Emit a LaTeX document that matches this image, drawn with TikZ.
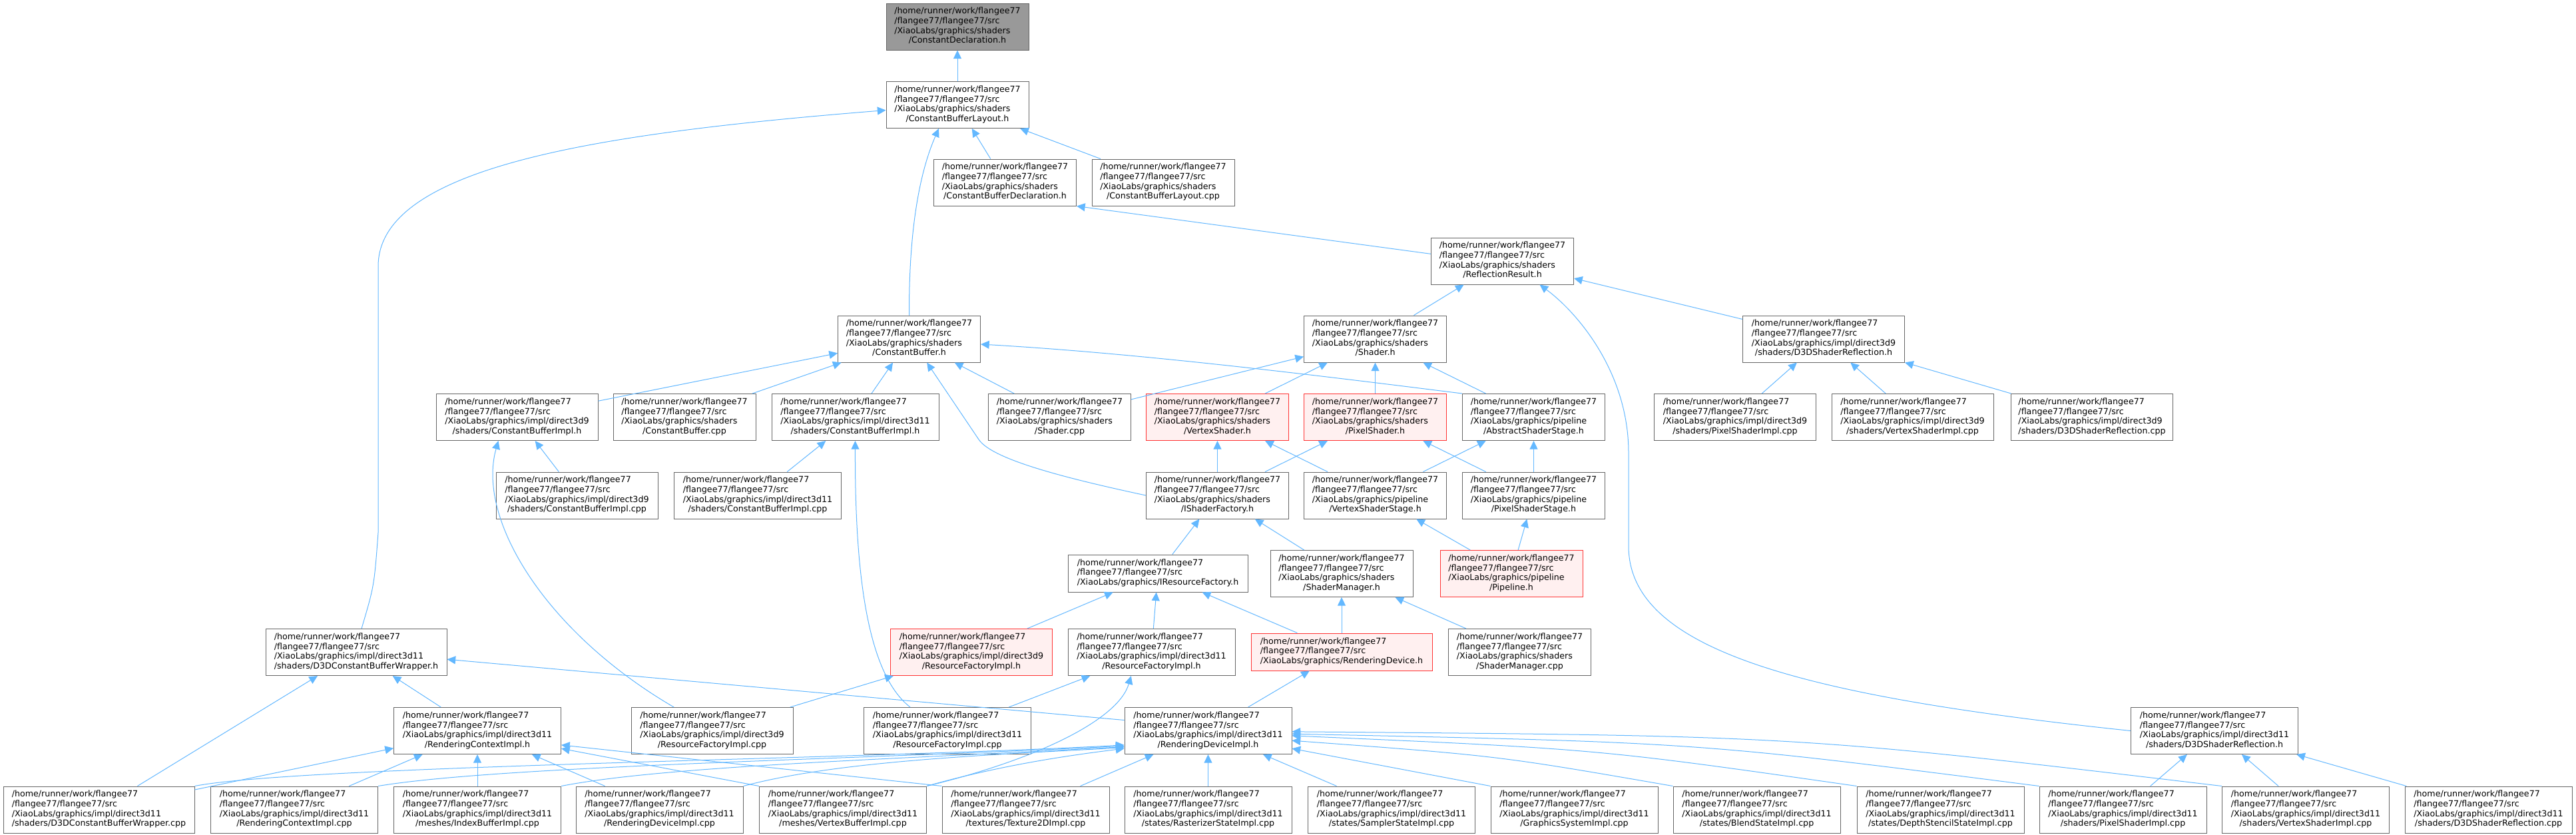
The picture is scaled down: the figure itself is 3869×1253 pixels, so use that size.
\documentclass[tikz,border=0pt]{standalone}
\usepackage{fontspec}
\setmainfont{DejaVu Sans}
\usetikzlibrary{arrows.meta,calc}
\definecolor{frame}{HTML}{666666}
\definecolor{rootfill}{HTML}{999999}
\definecolor{hotline}{HTML}{FF3333}
\definecolor{hotfill}{HTML}{FFF0F0}
\definecolor{depline}{HTML}{63B8FF}
\newcommand\incpath[2]{\begin{tabular}{@{}l@{}}/home/runner/work/flangee77\\/flangee77/flangee77/src\\#1\\\multicolumn{1}{@{}c@{}}{#2}\end{tabular}}
\newcommand\incpathi[1]{\begin{tabular}{@{}l@{}}/home/runner/work/flangee77\\/flangee77/flangee77/src\\#1\end{tabular}}
\renewcommand\arraystretch{1}
\tikzset{every node/.style={font=\fontsize{9.5}{11}\selectfont,text=black},
file/.style={draw=frame,fill=white,line width=.75pt,inner sep=0pt,minimum height=52.5pt},
hot/.style={draw=hotline,fill=hotfill},
root/.style={fill=rootfill},
threeline/.style={minimum height=42pt},
w214/.style={minimum width=160.5pt},
w243/.style={minimum width=182.25pt},
w251/.style={minimum width=188.25pt},
w270/.style={minimum width=202.5pt},
w272/.style={minimum width=204pt},
w287/.style={minimum width=215.25pt},
dep/.style={draw=depline,line width=.75pt,-{Triangle[length=9.5pt,width=9pt]}}}

\begin{document}
\begin{tikzpicture}[x=0.75pt,y=-0.75pt]
\fill[white] (0,0) rectangle (3869,1253);
\useasboundingbox (0,0) rectangle (3869,1253);
\node[file,w214,root] (cdecl) at (1438,40) {\incpath{/XiaoLabs/graphics/shaders}{/ConstantDeclaration.h}};
\node[file,w214] (cblay) at (1438,157.5) {\incpath{/XiaoLabs/graphics/shaders}{/ConstantBufferLayout.h}};
\node[file,w214] (cbdecl) at (1509.5,274) {\incpath{/XiaoLabs/graphics/shaders}{/ConstantBufferDeclaration.h}};
\node[file,w214] (cblaycpp) at (1747,274) {\incpath{/XiaoLabs/graphics/shaders}{/ConstantBufferLayout.cpp}};
\node[file,w214] (refl) at (2256.5,392) {\incpath{/XiaoLabs/graphics/shaders}{/ReflectionResult.h}};
\node[file,w214] (cbuf) at (1365.5,509) {\incpath{/XiaoLabs/graphics/shaders}{/ConstantBuffer.h}};
\node[file,w214] (shader) at (2065.5,509) {\incpath{/XiaoLabs/graphics/shaders}{/Shader.h}};
\node[file,w243] (dnreflh) at (2739,509) {\incpath{/XiaoLabs/graphics/impl/direct3d9}{/shaders/D3DShaderReflection.h}};

\node[file,w243] (dncbh) at (776.5,626.5) {\incpath{/XiaoLabs/graphics/impl/direct3d9}{/shaders/ConstantBufferImpl.h}};
\node[file,w214] (cbufcpp) at (1028,626.5) {\incpath{/XiaoLabs/graphics/shaders}{/ConstantBuffer.cpp}};
\node[file,w251] (decbh) at (1284.5,626.5) {\incpath{/XiaoLabs/graphics/impl/direct3d11}{/shaders/ConstantBufferImpl.h}};
\node[file,w214] (shadercpp) at (1591.5,626.5) {\incpath{/XiaoLabs/graphics/shaders}{/Shader.cpp}};
\node[file,w214,hot] (vsh) at (1828.5,626.5) {\incpath{/XiaoLabs/graphics/shaders}{/VertexShader.h}};
\node[file,w214,hot] (psh) at (2065.5,626.5) {\incpath{/XiaoLabs/graphics/shaders}{/PixelShader.h}};
\node[file,w214] (stage) at (2303.5,626.5) {\incpath{/XiaoLabs/graphics/pipeline}{/AbstractShaderStage.h}};
\node[file,w243] (dnpscpp) at (2606,626.5) {\incpath{/XiaoLabs/graphics/impl/direct3d9}{/shaders/PixelShaderImpl.cpp}};
\node[file,w243] (dnvscpp) at (2872.5,626.5) {\incpath{/XiaoLabs/graphics/impl/direct3d9}{/shaders/VertexShaderImpl.cpp}};
\node[file,w243] (dnreflcpp) at (3142,626.5) {\incpath{/XiaoLabs/graphics/impl/direct3d9}{/shaders/D3DShaderReflection.cpp}};

\node[file,w243] (dncbcpp) at (866.5,744) {\incpath{/XiaoLabs/graphics/impl/direct3d9}{/shaders/ConstantBufferImpl.cpp}};
\node[file,w251] (decbcpp) at (1138,744) {\incpath{/XiaoLabs/graphics/impl/direct3d11}{/shaders/ConstantBufferImpl.cpp}};
\node[file,w214] (isf) at (1828.5,744) {\incpath{/XiaoLabs/graphics/shaders}{/IShaderFactory.h}};
\node[file,w214] (vstage) at (2065.5,744) {\incpath{/XiaoLabs/graphics/pipeline}{/VertexShaderStage.h}};
\node[file,w214] (pstage) at (2303.5,744) {\incpath{/XiaoLabs/graphics/pipeline}{/PixelShaderStage.h}};

\node[file,w270,threeline] (irf) at (1739,861) {\incpathi{/XiaoLabs/graphics/IResourceFactory.h}};
\node[file,w214] (shm) at (2015,861.5) {\incpath{/XiaoLabs/graphics/shaders}{/ShaderManager.h}};
\node[file,w214,hot] (pipe) at (2270,861.5) {\incpath{/XiaoLabs/graphics/pipeline}{/Pipeline.h}};

\node[file,w272] (wraph) at (535,979.5) {\incpath{/XiaoLabs/graphics/impl/direct3d11}{/shaders/D3DConstantBufferWrapper.h}};
\node[file,w243,hot] (dnrfh) at (1459,979.5) {\incpath{/XiaoLabs/graphics/impl/direct3d9}{/ResourceFactoryImpl.h}};
\node[file,w251] (derfh) at (1729.5,979.5) {\incpath{/XiaoLabs/graphics/impl/direct3d11}{/ResourceFactoryImpl.h}};
\node[file,w272,threeline,hot] (rdev) at (2015,979) {\incpathi{/XiaoLabs/graphics/RenderingDevice.h}};
\node[file,w214] (shmcpp) at (2282.5,979.5) {\incpath{/XiaoLabs/graphics/shaders}{/ShaderManager.cpp}};

\node[file,w251] (rctxh) at (717,1097.5) {\incpath{/XiaoLabs/graphics/impl/direct3d11}{/RenderingContextImpl.h}};
\node[file,w243] (dnrfcpp) at (1069.5,1097.5) {\incpath{/XiaoLabs/graphics/impl/direct3d9}{/ResourceFactoryImpl.cpp}};
\node[file,w251] (derfcpp) at (1423,1097.5) {\incpath{/XiaoLabs/graphics/impl/direct3d11}{/ResourceFactoryImpl.cpp}};
\node[file,w251] (rdevh) at (1814.5,1097.5) {\incpath{/XiaoLabs/graphics/impl/direct3d11}{/RenderingDeviceImpl.h}};
\node[file,w251] (dereflh) at (3326,1097.5) {\incpath{/XiaoLabs/graphics/impl/direct3d11}{/shaders/D3DShaderReflection.h}};

\node[file,w287] (wrapcpp) at (148.5,1216) {\incpath{/XiaoLabs/graphics/impl/direct3d11}{/shaders/D3DConstantBufferWrapper.cpp}};
\node[file,w251] (rctxcpp) at (442,1216) {\incpath{/XiaoLabs/graphics/impl/direct3d11}{/RenderingContextImpl.cpp}};
\node[file,w251] (ibcpp) at (717,1216) {\incpath{/XiaoLabs/graphics/impl/direct3d11}{/meshes/IndexBufferImpl.cpp}};
\node[file,w251] (rdevcpp) at (990.5,1216) {\incpath{/XiaoLabs/graphics/impl/direct3d11}{/RenderingDeviceImpl.cpp}};
\node[file,w251] (vbcpp) at (1266,1216) {\incpath{/XiaoLabs/graphics/impl/direct3d11}{/meshes/VertexBufferImpl.cpp}};
\node[file,w251] (texcpp) at (1540.5,1216) {\incpath{/XiaoLabs/graphics/impl/direct3d11}{/textures/Texture2DImpl.cpp}};
\node[file,w251] (rastcpp) at (1814.5,1216) {\incpath{/XiaoLabs/graphics/impl/direct3d11}{/states/RasterizerStateImpl.cpp}};
\node[file,w251] (sampcpp) at (2090,1216) {\incpath{/XiaoLabs/graphics/impl/direct3d11}{/states/SamplerStateImpl.cpp}};
\node[file,w251] (gscpp) at (2364.5,1216) {\incpath{/XiaoLabs/graphics/impl/direct3d11}{/GraphicsSystemImpl.cpp}};
\node[file,w251] (blendcpp) at (2638.5,1216) {\incpath{/XiaoLabs/graphics/impl/direct3d11}{/states/BlendStateImpl.cpp}};
\node[file,w251] (dscpp) at (2914.5,1216) {\incpath{/XiaoLabs/graphics/impl/direct3d11}{/states/DepthStencilStateImpl.cpp}};
\node[file,w251] (pscpp) at (3188.5,1216) {\incpath{/XiaoLabs/graphics/impl/direct3d11}{/shaders/PixelShaderImpl.cpp}};
\node[file,w251] (vscpp) at (3463,1216) {\incpath{/XiaoLabs/graphics/impl/direct3d11}{/shaders/VertexShaderImpl.cpp}};
\node[file,w251] (dereflcpp) at (3737.5,1216) {\incpath{/XiaoLabs/graphics/impl/direct3d11}{/shaders/D3DShaderReflection.cpp}};

\draw[dep] (cblay) -- (cdecl);
\draw[dep] (cbdecl) -- (cblay);
\draw[dep] (cblaycpp) -- (cblay);
\draw[dep] (cbuf.north) .. controls (1365,330) and (1385,250) .. ([xshift=-21pt]cblay.south);
\draw[dep] ([xshift=6pt]wraph.north) .. controls (562,880) .. (568,800) -- (568,400) .. controls (568,250) and (900,200) .. ([yshift=-6pt]cblay.west);
\draw[dep] ([yshift=8pt]refl.west) -- (cbdecl.south east);
\draw[dep] (shader) -- (refl);
\draw[dep] (dnreflh) -- (refl);
\draw[dep] (dereflh.west) .. controls (2700,1045) and (2446,975) .. (2446,820) -- (2446,680) .. controls (2446,560) and (2370,470) .. ([xshift=42pt]refl.south);
\draw[dep] (dncbh) -- (cbuf);
\draw[dep] (cbufcpp) -- (cbuf);
\draw[dep] (decbh) -- (cbuf);
\draw[dep] (shadercpp) -- (cbuf);
\draw[dep] (isf.west) .. controls (1600,718) and (1490,690) .. (1470,660) -- ([xshift=20pt]cbuf.south);
\draw[dep] (stage.north west) .. controls (1950,560) and (1700,530) .. ([yshift=-6pt]cbuf.east);
\draw[dep] (shadercpp) -- (shader);
\draw[dep] (vsh) -- (shader);
\draw[dep] (psh) -- (shader);
\draw[dep] (stage) -- (shader);
\draw[dep] (dnpscpp) -- (dnreflh);
\draw[dep] (dnvscpp) -- (dnreflh);
\draw[dep] (dnreflcpp) -- (dnreflh);
\draw[dep] (dncbcpp) -- (dncbh);
\draw[dep] ([xshift=-43pt]dnrfcpp.north) .. controls (820,950) and (715,780) .. ([xshift=-21pt]dncbh.south);
\draw[dep] (decbcpp) -- (decbh);
\draw[dep] ([xshift=-42pt]derfcpp.north) .. controls (1300,1010) and (1284,850) .. (decbh.south);
\draw[dep] (isf) -- (vsh);
\draw[dep] (vstage) -- (vsh);
\draw[dep] (isf) -- (psh);
\draw[dep] (pstage) -- (psh);
\draw[dep] (vstage) -- (stage);
\draw[dep] (pstage) -- (stage);
\draw[dep] (pipe) -- (vstage);
\draw[dep] (pipe) -- (pstage);
\draw[dep] (irf) -- (isf);
\draw[dep] (shm) -- (isf);
\draw[dep] (dnrfh) -- (irf);
\draw[dep] (derfh) -- (irf);
\draw[dep] (rdev) -- (irf);
\draw[dep] (rdev) -- (shm);
\draw[dep] (shmcpp) -- (shm);
\draw[dep] (rdevh) -- (rdev);
\draw[dep] (dnrfcpp) -- (dnrfh);
\draw[dep] (derfcpp) -- (derfh);
\draw[dep] (vbcpp.north east) .. controls (1560,1140) and (1680,1080) .. ([xshift=-23pt]derfh.south);
\draw[dep] ([yshift=12pt]rdevh.west) -- ([yshift=-8pt]wraph.east);
\draw[dep] (rctxh) -- (wraph);
\draw[dep] (wrapcpp) -- (wraph);
\draw[dep] (wrapcpp) -- (rctxh);
\draw[dep] (rctxcpp) -- (rctxh);
\draw[dep] (ibcpp) -- (rctxh);
\draw[dep] (rdevcpp) -- (rctxh);
\draw[dep] (vbcpp.north west) -- ([yshift=-20pt]rctxh.east);
\draw[dep] (texcpp.north west) -- ([yshift=-16pt]rctxh.east);
\draw[dep] (wrapcpp.north east) .. controls (450,1150) and (1300,1140) .. ([yshift=-16pt]rdevh.west);
\draw[dep] (rctxcpp.north east) .. controls (750,1150) and (1300,1140) .. ([yshift=-17pt]rdevh.west);
\draw[dep] (ibcpp.north east) .. controls (1000,1150) and (1350,1140) .. ([yshift=-18pt]rdevh.west);
\draw[dep] (rdevcpp.north east) .. controls (1250,1145) and (1450,1135) .. ([yshift=-19pt]rdevh.west);
\draw[dep] (vbcpp.north east) .. controls (1500,1150) and (1600,1135) .. ([yshift=-20pt]rdevh.west);
\draw[dep] (texcpp) -- (rdevh);
\draw[dep] (rastcpp) -- (rdevh);
\draw[dep] (sampcpp) -- (rdevh);
\draw[dep] (gscpp.north west) -- ([yshift=-20pt]rdevh.east);
\draw[dep] (blendcpp.north west) .. controls (2250,1135) .. ([yshift=-11pt]rdevh.east);
\draw[dep] (dscpp.north west) .. controls (2400,1125) .. ([yshift=-5.5pt]rdevh.east);
\draw[dep] (pscpp.north west) .. controls (2550,1115) .. ([yshift=-3.5pt]rdevh.east);
\draw[dep] (vscpp.north west) .. controls (2700,1105) .. ([yshift=-1pt]rdevh.east);
\draw[dep] (pscpp) -- (dereflh);
\draw[dep] (vscpp) -- (dereflh);
\draw[dep] (dereflcpp) -- (dereflh);
\end{tikzpicture}
\end{document}
